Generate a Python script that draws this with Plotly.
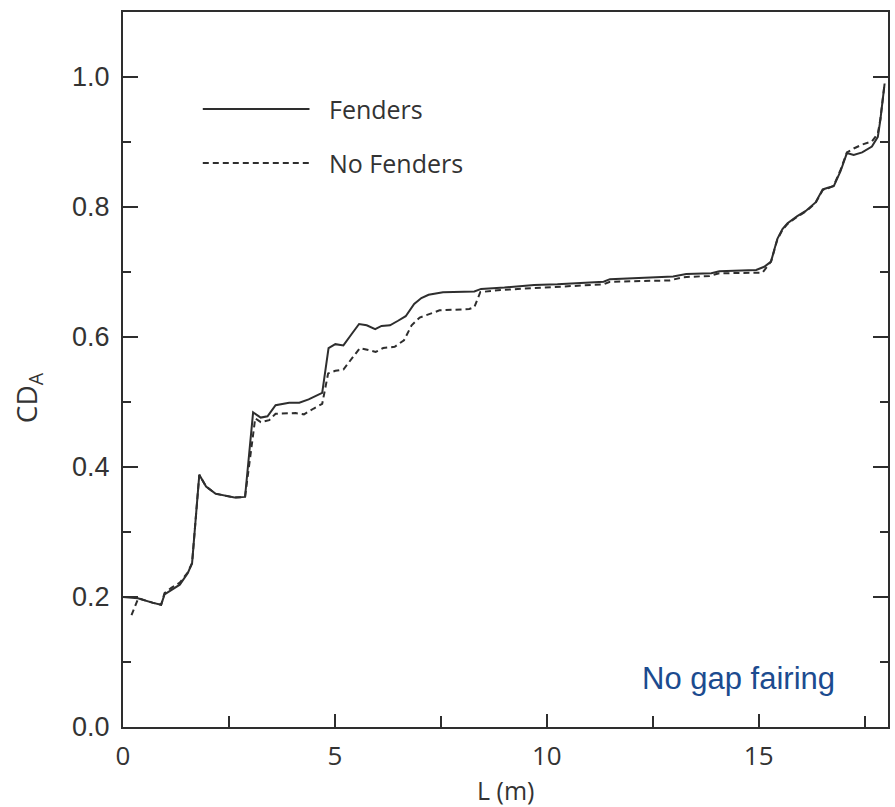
import plotly.graph_objects as go

# Cumulative drag area along the body length
L_fenders = [0, 0.35, 0.71, 0.9, 0.98, 1.14, 1.34, 1.53, 1.63, 1.80,
             1.96, 2.18, 2.63, 2.88, 3.07, 3.25, 3.41, 3.6, 3.92, 4.16,
             4.38, 4.70, 4.85, 5.01, 5.2, 5.40, 5.57, 5.75, 5.95, 6.10,
             6.30, 6.49, 6.67, 6.87, 7.04, 7.21, 7.55, 8.29, 8.45, 9.0,
             9.7, 10.25, 11.34, 11.49, 12.98, 13.29, 13.88, 14.07, 14.94, 15.13,
             15.29, 15.37, 15.44, 15.56, 15.68, 15.91, 16.11, 16.34, 16.51, 16.65,
             16.77, 16.93, 17.08, 17.24, 17.44, 17.67, 17.81, 17.87, 17.92, 17.97]
cda_fenders = [0.2, 0.198, 0.191, 0.188, 0.204, 0.211, 0.219, 0.237, 0.252, 0.388,
               0.370, 0.359, 0.353, 0.354, 0.484, 0.476, 0.478, 0.495, 0.499, 0.499,
               0.504, 0.514, 0.583, 0.589, 0.587, 0.605, 0.620, 0.618, 0.612, 0.617,
               0.618, 0.625, 0.632, 0.651, 0.660, 0.665, 0.669, 0.670, 0.674, 0.676,
               0.680, 0.681, 0.685, 0.689, 0.693, 0.697, 0.698, 0.701, 0.703, 0.708,
               0.716, 0.735, 0.751, 0.766, 0.775, 0.786, 0.794, 0.807, 0.827, 0.830,
               0.832, 0.855, 0.883, 0.880, 0.884, 0.893, 0.908, 0.934, 0.967, 0.99]

L_no_fenders = [0.2, 0.36, 0.71, 0.9, 0.98, 1.14, 1.34, 1.53, 1.63, 1.80,
                1.96, 2.18, 2.63, 2.88, 3.12, 3.25, 3.45, 3.6, 4.07, 4.27,
                4.5, 4.70, 4.84, 5.01, 5.2, 5.40, 5.59, 5.79, 5.96, 6.14,
                6.41, 6.63, 6.81, 7.0, 7.24, 7.47, 8.17, 8.29, 8.43, 8.84,
                9.62, 10.25, 11.34, 11.49, 12.9, 13.21, 13.84, 14.07, 15.09, 15.29,
                15.37, 15.44, 15.56, 15.68, 15.91, 16.11, 16.34, 16.51, 16.65, 16.77,
                16.93, 17.08, 17.24, 17.44, 17.67, 17.81, 17.87, 17.92, 17.97]
cda_no_fenders = [0.172, 0.198, 0.191, 0.188, 0.206, 0.214, 0.222, 0.238, 0.252, 0.388,
                  0.370, 0.359, 0.353, 0.354, 0.475, 0.469, 0.472, 0.482, 0.483, 0.481,
                  0.490, 0.497, 0.544, 0.548, 0.550, 0.566, 0.583, 0.580, 0.577, 0.583,
                  0.585, 0.595, 0.618, 0.630, 0.636, 0.641, 0.643, 0.646, 0.669, 0.672,
                  0.675, 0.677, 0.681, 0.685, 0.687, 0.692, 0.694, 0.698, 0.699, 0.716,
                  0.733, 0.750, 0.765, 0.774, 0.785, 0.793, 0.806, 0.826, 0.829, 0.833,
                  0.857, 0.884, 0.890, 0.896, 0.901, 0.913, 0.935, 0.967, 0.99]

series_names = ["Fenders", "No Fenders"]
x_ticks = [0, 5, 10, 15]
y_ticks = [0.0, 0.2, 0.4, 0.6, 0.8, 1.0]

INK = "#2e2e2e"
TXT = "#333333"

fig = go.Figure()
fig.add_trace(go.Scatter(x=L_no_fenders, y=cda_no_fenders, mode="lines",
                         name=series_names[1],
                         line=dict(color=INK, width=2, dash="6px,4px")))
fig.add_trace(go.Scatter(x=L_fenders, y=cda_fenders, mode="lines",
                         name=series_names[0],
                         line=dict(color=INK, width=2)))

fig.update_layout(
    width=895, height=807,
    margin=dict(l=123, r=5, t=12, b=80),
    paper_bgcolor="white", plot_bgcolor="white",
    showlegend=False,
    xaxis=dict(range=[0, 18.05], tickvals=x_ticks, ticktext=[str(v) for v in x_ticks],
               ticks="inside", ticklen=13, tickwidth=1.5, tickcolor=INK,
               minor=dict(dtick=2.5, ticks="inside", ticklen=11, tickwidth=1.5, tickcolor=INK),
               showline=True, linecolor=INK, linewidth=2, mirror=True,
               showgrid=False, zeroline=False, ticklabelstandoff=5,
               tickfont=dict(family="Open Sans", size=26, color=TXT)),
    yaxis=dict(range=[0, 1.1], tickvals=y_ticks, ticktext=[f"{v:.1f}" for v in y_ticks],
               ticks="inside", ticklen=15, tickwidth=1.5, tickcolor=INK,
               minor=dict(dtick=0.1, ticks="inside", ticklen=8, tickwidth=1.5, tickcolor=INK),
               showline=True, linecolor=INK, linewidth=2, mirror="ticks",
               showgrid=False, zeroline=False, ticklabelstandoff=6,
               tickfont=dict(family="Liberation Sans", size=27, color=TXT)),
)

# Legend drawn as sample strokes with labels
legend_rows = [(0.8643, "solid"), (0.7888, "6px,4px")]
for (ypos, dash), name in zip(legend_rows, series_names):
    fig.add_shape(type="line", xref="paper", yref="paper",
                  x0=0.1043, x1=0.2438, y0=ypos, y1=ypos,
                  line=dict(color=INK, width=2, dash=dash))
    fig.add_annotation(xref="paper", yref="paper", x=0.2673, y=ypos,
                       text=name, showarrow=False, xanchor="left", yanchor="middle",
                       font=dict(family="Open Sans", size=25, color=TXT))

# Axis titles
fig.add_annotation(xref="paper", yref="paper", x=0.5, y=-0.088,
                   text="L (m)", showarrow=False, xanchor="center", yanchor="middle",
                   font=dict(family="Open Sans", size=25, color=TXT))
fig.add_annotation(xref="paper", yref="paper", x=-0.124, y=0.46,
                   text="CD<sub>A</sub>", showarrow=False, textangle=-90,
                   xanchor="center", yanchor="middle",
                   font=dict(family="Open Sans", size=28, color=TXT))

fig.add_annotation(xref="paper", yref="paper", x=0.6754, y=0.0685,
                   text="No gap fairing", showarrow=False, xanchor="left", yanchor="middle",
                   font=dict(family="Liberation Sans", size=31, color="#1c4b8f"))

fig.write_html("out.html")
